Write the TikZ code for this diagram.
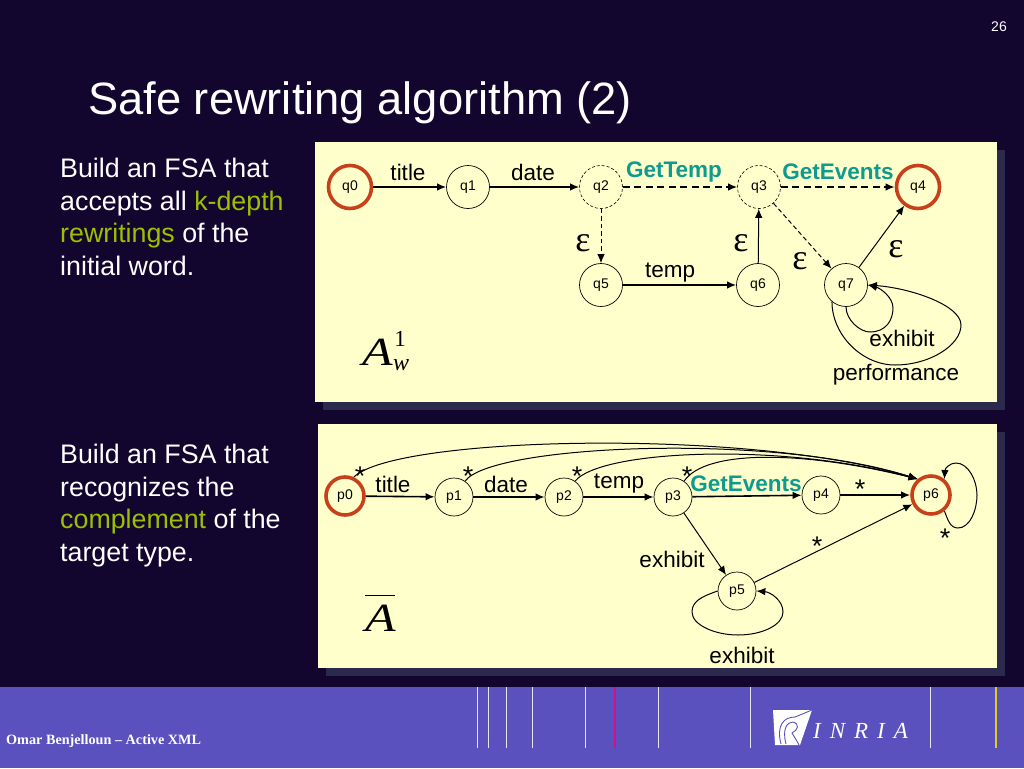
\documentclass[tikz,border=0pt]{standalone}
\usepackage{fontspec}
\usetikzlibrary{arrows.meta}
\setmainfont{Liberation Sans}
\newfontfamily\timesfont{Liberation Serif}
\definecolor{slidebg}{HTML}{12052E}
\definecolor{footerbg}{HTML}{5A50BE}
\definecolor{panelbg}{HTML}{FFFFCC}
\definecolor{panelshadow}{HTML}{2B2A4C}
\definecolor{ringred}{HTML}{C8401A}
\definecolor{methodteal}{HTML}{0F9A8F}
\definecolor{keylime}{HTML}{9CC000}
\definecolor{tickpink}{HTML}{D0108C}
\definecolor{tickyellow}{HTML}{D8D020}
\newcommand{\fs}[1]{\fontsize{#1}{#1}\selectfont}
\tikzset{
  >={Latex[length=9pt,width=7.5pt]},
  state/.style={circle, draw, fill=panelbg, minimum size=43pt, inner sep=0pt, line width=0.7pt, font=\fs{14}},
  pstate/.style={state, minimum size=38pt},
  vstate/.style={state, densely dashed, line width=0.6pt},
  final/.style={line width=3.6pt, draw=ringred},
  edge/.style={->, line width=1.6pt},
  slim/.style={->, line width=1pt},
  longdash/.style={dash pattern=on 7pt off 4.5pt},
  shortdash/.style={dash pattern=on 4.5pt off 3pt},
  lab/.style={font=\fs{22.5}, inner sep=0pt},
  meth/.style={font=\fs{22.5}\bfseries, text=methodteal, inner sep=0pt},
  eps/.style={font=\timesfont\fs{36}, inner sep=0pt},
  star/.style={font=\fs{27}, inner sep=0pt},
  para/.style={font=\fs{26.8}, text=white, anchor=base west, inner sep=0pt},
  bigA/.style={inner sep=0pt, font=\timesfont\itshape\fs{40}, xscale=1.25, transform shape},
  tick/.style={line width=0.8pt, draw=white!85!footerbg}
}
\begin{document}
\begin{tikzpicture}[x=1pt,y=-1pt]
  \useasboundingbox (0,0) rectangle (1024,768);
  \fill[slidebg] (0,0) rectangle (1024,768);

  % footer
  \fill[footerbg] (0,687) rectangle (1024,768);
  \foreach \x in {477,488,506,532,585,658,750,930}
    \draw[tick] (\x,687) -- (\x,748);
  \draw[line width=1.6pt, draw=tickpink] (615,687) -- (615,748);
  \draw[line width=1.6pt, draw=tickyellow] (996,687) -- (996,748);
  \node[anchor=west, inner sep=0pt, text=white] (author) at (6,741) {\timesfont\bfseries\fs{14.2}Omar Benjelloun – Active XML};

  % logo
  \fill[white] (773,710) -- (812,710) -- (800,745) -- (775,745) -- cycle;
  \draw[footerbg, line width=0.9pt] (781,744) .. controls (776,725) and (784,717) .. (795,717) -- (812,710);
  \draw[footerbg, line width=0.9pt] (786,744) .. controls (782,729) and (787,722) .. (793,722) .. controls (800,724) and (798,730) .. (792,733) .. controls (795,738) and (797,741) .. (799,745);
  \node[anchor=west, inner sep=0pt, text=white] (inria) at (813,731) {\timesfont\itshape\fs{23}\addfontfeature{LetterSpace=39}INRIA};

  % headings
  \node[anchor=east, inner sep=0pt, text=white, font=\fs{14}] (pageno) at (1007,27) {26};
  \node[anchor=base west, inner sep=0pt, text=white, font=\fs{45.3}] (heading) at (88,114) {Safe rewriting algorithm (2)};

  \node[para] (a1) at (60,177) {Build an FSA that};
  \node[para] (a2) at (60,210) {accepts all \textcolor{keylime}{k-depth}};
  \node[para] (a3) at (60,242) {\textcolor{keylime}{rewritings} of the};
  \node[para] (a4) at (60,275) {initial word.};

  \node[para] (b1) at (60,463) {Build an FSA that};
  \node[para] (b2) at (60,496) {recognizes the};
  \node[para] (b3) at (60,528) {\textcolor{keylime}{complement} of the};
  \node[para] (b4) at (60,561) {target type.};

  % panels
  \fill[panelshadow] (323,150) rectangle (1005,410);
  \fill[panelbg] (315,142) rectangle (997,402);
  \fill[panelshadow] (326,432) rectangle (1005,676);
  \fill[panelbg] (318,424) rectangle (997,668);

  % upper automaton
  \node[state, final] (q0) at (350,187) {q0};
  \node[state] (q1) at (468,187) {q1};
  \node[vstate] (q2) at (601,187) {q2};
  \node[vstate] (q3) at (759,187) {q3};
  \node[state, final] (q4) at (918,187) {q4};
  \node[state] (q5) at (601,285) {q5};
  \node[state] (q6) at (758,285) {q6};
  \node[state] (q7) at (846,285) {q7};

  \draw[edge] (q0) -- (q1);
  \draw[edge] (q1) -- (q2);
  \draw[edge, longdash] (q2) -- (q3);
  \draw[edge, longdash] (q3) -- (q4);
  \draw[slim, shortdash] (q2) -- (q5);
  \draw[edge] (q5) -- (q6);
  \draw[slim] (q6) -- (q3);
  \draw[slim, shortdash] (q3) -- (q7);
  \draw[slim] (q7) -- (q4);
  \draw[slim] (q7.south) .. controls (846,320) and (860,332) .. (870,332) .. controls (886,332) and (893,320) .. (893,308) .. controls (893,297) and (880,288) .. (q7.east);
  \draw[slim] (q7.-130) .. controls (832,335) and (862,365) .. (895,365) .. controls (930,365) and (961,345) .. (961,325) .. controls (961,305) and (910,288) .. (q7.east);

  \node[lab] (qtitle) at (408,172) {title};
  \node[lab] (qdate) at (533,172) {date};
  \node[meth] (qgettemp) at (674,172) {GetTemp};
  \node[meth] (qgetevents) at (838,172) {GetEvents};
  \node[lab] (qtemp) at (670,273) {temp};
  \node[lab] (qexhibit) at (902,338) {exhibit};
  \node[lab] (qperf) at (896,375) {performance};
  \node[eps] (e1) at (583,243) {ε};
  \node[eps] (e2) at (741,243) {ε};
  \node[eps] (e3) at (800,261) {ε};
  \node[eps] (e4) at (896,249) {ε};
  \node[bigA] (aw) at (378,352) {A};
  \node[inner sep=0pt, font=\timesfont\fs{23}] (awsup) at (400,339) {1};
  \node[inner sep=0pt, font=\timesfont\itshape\fs{24}] (awsub) at (401,365) {w};

  % lower automaton
  \node[pstate, final] (p0) at (345,496) {p0};
  \node[pstate] (p1) at (454,497) {p1};
  \node[pstate] (p2) at (564,497) {p2};
  \node[pstate] (p3) at (673,497) {p3};
  \node[pstate] (p4) at (821,495) {p4};
  \node[pstate, final] (p6) at (931,495) {p6};
  \node[pstate] (p5) at (737,591) {p5};

  \draw[edge] (p0) -- (p1);
  \draw[edge] (p1) -- (p2);
  \draw[edge] (p2) -- (p3);
  \draw[edge] (p3) -- (p4);
  \draw[edge] (p4) -- (p6);
  \draw[slim] (p3) -- (p5);
  \draw[slim] (p5) -- (p6);
  \draw[slim] (p0.65) .. controls (395,436) and (750,428) .. (p6.130);
  \draw[slim] (p1.55) .. controls (490,445) and (770,432) .. (p6.130);
  \draw[slim] (p2.55) .. controls (600,450) and (780,442) .. (p6.130);
  \draw[slim] (p3.55) .. controls (705,450) and (800,450) .. (p6.130);
  \draw[slim] (p6.-50) .. controls (948,520) and (950,528) .. (958,528) .. controls (970,528) and (977,510) .. (977,495) .. controls (977,480) and (968,463) .. (956,463) .. controls (950,463) and (945,468) .. (p6.50);
  \draw[slim] (p5.west) .. controls (700,597) and (692,602) .. (692,612) .. controls (692,625) and (715,635) .. (738,635) .. controls (762,635) and (783,625) .. (783,612) .. controls (783,600) and (770,592) .. (p5.east);

  \node[star] (s0) at (360,476) {*};
  \node[star] (s1) at (468,476) {*};
  \node[star] (s2) at (577,476) {*};
  \node[star] (s3) at (687,476) {*};
  \node[star] (s4) at (860,489) {*};
  \node[star] (s5) at (817,546) {*};
  \node[star] (s6) at (945,538) {*};
  \node[lab] (ptitle) at (393,484) {title};
  \node[lab] (pdate) at (506,484) {date};
  \node[lab] (ptemp) at (619,484) {temp};
  \node[meth] (pgetevents) at (746,484) {GetEvents};
  \node[lab] (pexhibit) at (672,559) {exhibit};
  \node[lab] (pexhibitb) at (742,655) {exhibit};
  \node[bigA] (abar) at (381,618) {A};
  \draw[line width=0.9pt] (365,595) -- (395,595);
\end{tikzpicture}
\end{document}
